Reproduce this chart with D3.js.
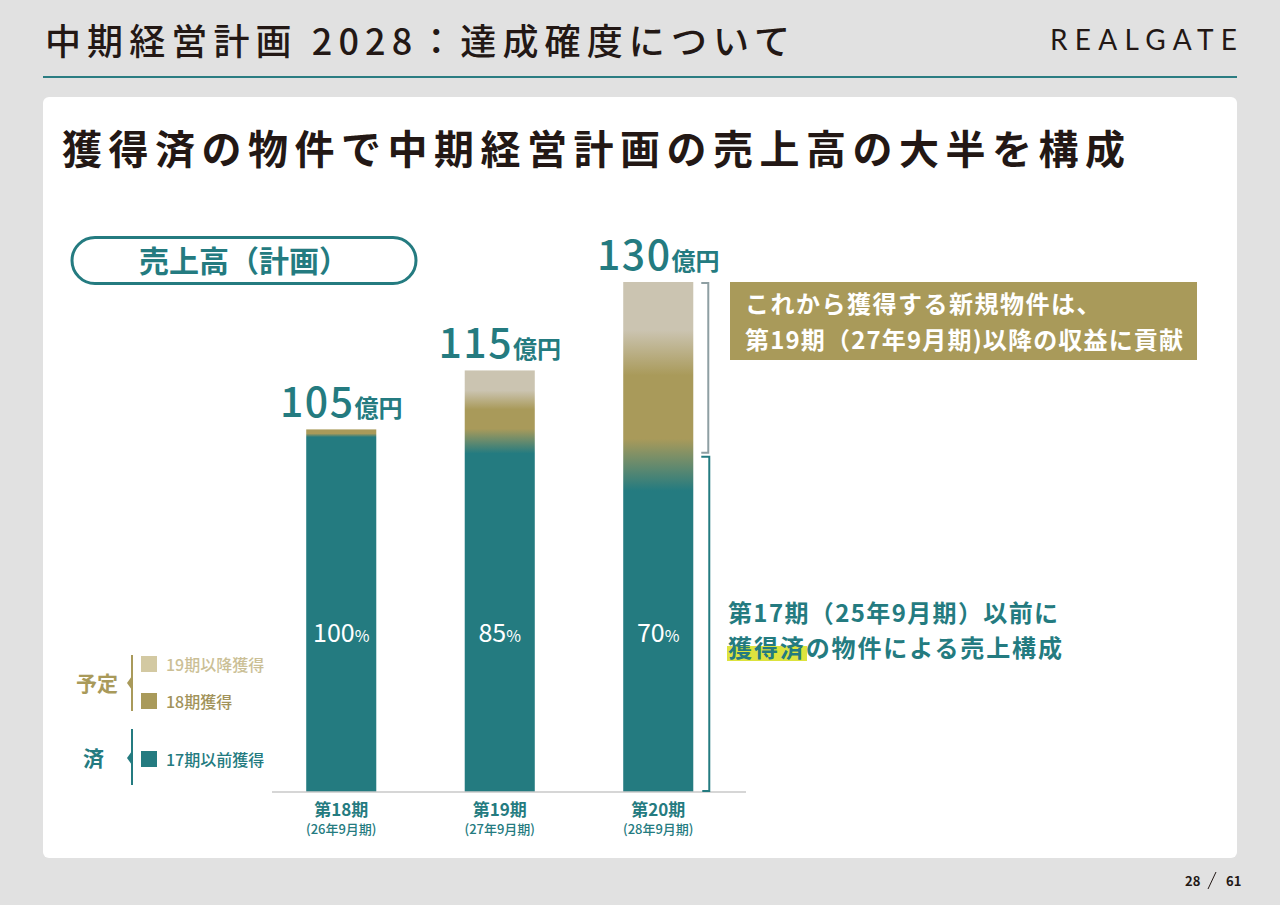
<!DOCTYPE html>
<html>
<head>
<meta charset="utf-8">
<script src="https://cdn.jsdelivr.net/npm/d3@7/dist/d3.min.js"></script>
<style>
  html, body { margin: 0; padding: 0; background: #e1e1e1; }
  svg { display: block; }
  text { font-family: "Noto Sans CJK JP", "Noto Sans", sans-serif; }
</style>
</head>
<body>
<div id="chart"></div>
<script>
// ---- data ----
const categories = ["第18期", "第19期", "第20期"];
const periods = ["(26年9月期)", "(27年9月期)", "(28年9月期)"];
const totals = [105, 115, 130];                 // 億円
const acquiredBy17 = [104, 103, 99];           // 済: 17期以前獲得
const planned18 = [1, 7, 19];                   // 予定: 18期獲得
const planned19 = [0, 5, 12];                   // 予定: 19期以降獲得
const shareLabels = ["100", "85", "70"];        // 済 share %
const seriesNames = ["17期以前獲得", "18期獲得", "19期以降獲得"];
const yDomain = [43.5, 130];

const W = 1280, H = 905;
const TEAL = "#247b80", KHAKI = "#a99a5a", BEIGE = "#cbc4b1";
const DARK = "#231815";

const svg = d3.select("#chart").append("svg").attr("width", W).attr("height", H);
svg.append("rect").attr("width", W).attr("height", H).attr("fill", "#e1e1e1");

// header
svg.append("text").attr("x", 45).attr("y", 55)
  .attr("font-size", 36).attr("font-weight", 500).attr("fill", DARK)
  .attr("textLength", 745).attr("lengthAdjust", "spacing")
  .text("中期経営計画 2028：達成確度について");
svg.append("text").attr("x", 1050).attr("y", 50)
  .style("font-family", "Lato, 'DejaVu Sans', sans-serif")
  .attr("font-size", 28).attr("font-weight", 400).attr("fill", DARK)
  .attr("textLength", 187).attr("lengthAdjust", "spacing")
  .text("REALGATE");
svg.append("line").attr("x1", 43).attr("x2", 1237).attr("y1", 77).attr("y2", 77)
  .attr("stroke", "#2b7d82").attr("stroke-width", 2);

// panel
svg.append("rect").attr("x", 43).attr("y", 97).attr("width", 1194).attr("height", 761)
  .attr("rx", 6).attr("fill", "#ffffff");

svg.append("text").attr("x", 62).attr("y", 164)
  .attr("font-size", 40).attr("font-weight", 700).attr("fill", DARK)
  .attr("textLength", 1063).attr("lengthAdjust", "spacing")
  .text("獲得済の物件で中期経営計画の売上高の大半を構成");

// pill
svg.append("rect").attr("x", 72).attr("y", 237.5).attr("width", 344).attr("height", 46)
  .attr("rx", 23).attr("fill", "none").attr("stroke", TEAL).attr("stroke-width", 3);
svg.append("text").attr("x", 244).attr("y", 272).attr("text-anchor", "middle")
  .attr("font-size", 30).attr("font-weight", 700).attr("fill", TEAL)
  .text("売上高（計画）");

// scales
const x = d3.scaleBand().domain(categories).range([262, 737.5])
  .paddingInner(0.558).paddingOuter(0.279);
const y = d3.scaleLinear().domain(yDomain).range([792, 282]);

const rows = categories.map((c, i) => ({
  cat: c, total: totals[i], share: shareLabels[i], period: periods[i],
  segs: [acquiredBy17[i], planned18[i], planned19[i]]
}));

// gradients
const defs = svg.append("defs");
rows.forEach((r, i) => {
  const top = y(r.total), bottom = y(yDomain[0]);
  const h = bottom - top;
  const b1 = r.segs[0], b2 = r.segs[0] + r.segs[1];
  const yb1 = y(b1), yb2 = y(b2);
  const hTeal = bottom - yb1, hKhaki = yb1 - yb2, hBeige = yb2 - top;
  const off = v => ((v - top) / h * 100).toFixed(3) + "%";
  const g = defs.append("linearGradient").attr("id", "grad" + i)
    .attr("x1", 0).attr("x2", 0).attr("y1", 0).attr("y2", 1);
  const stops = [];
  const blendBK = hBeige > 0 ? Math.min(24, 0.32 * Math.min(hBeige, hKhaki)) : 0;
  const blendKT = Math.min(26, 0.3 * Math.min(hKhaki, hTeal));
  if (hBeige > 0) {
    stops.push([top, BEIGE]);
    stops.push([yb2 - blendBK, BEIGE]);
    stops.push([yb2 + blendBK, KHAKI]);
  } else {
    stops.push([top, KHAKI]);
  }
  stops.push([yb1 - blendKT, KHAKI]);
  stops.push([yb1 + blendKT, TEAL]);
  stops.push([bottom, TEAL]);
  stops.forEach(([pos, col]) => {
    g.append("stop").attr("offset", off(pos)).attr("stop-color", col);
  });
});

// bars
svg.append("g").selectAll("rect").data(rows).join("rect")
  .attr("x", d => x(d.cat)).attr("width", x.bandwidth())
  .attr("y", d => y(d.total)).attr("height", d => y(yDomain[0]) - y(d.total))
  .attr("fill", (d, i) => `url(#grad${i})`);

// baseline
svg.append("line").attr("x1", 272).attr("x2", 746).attr("y1", 792).attr("y2", 792)
  .attr("stroke", "#c9c9c9").attr("stroke-width", 1.5);

// total labels
const tl = svg.append("g").selectAll("text").data(rows).join("text")
  .attr("x", d => x(d.cat) + x.bandwidth() / 2)
  .attr("y", d => y(d.total) - 12)
  .attr("text-anchor", "middle").attr("fill", TEAL);
tl.append("tspan").attr("font-size", 41).attr("font-weight", 500)
  .attr("letter-spacing", 1.5).text(d => d.total);
tl.append("tspan").attr("font-size", 24).attr("font-weight", 700).text("億円");

// share labels
const sl = svg.append("g").selectAll("text").data(rows).join("text")
  .attr("x", d => x(d.cat) + x.bandwidth() / 2)
  .attr("y", 642).attr("text-anchor", "middle").attr("fill", "#ffffff");
sl.append("tspan").attr("font-size", 25).attr("font-weight", 400).text(d => d.share);
sl.append("tspan").attr("font-size", 16).attr("font-weight", 400).text("%");

// axis category labels
const axis = d3.axisBottom(x).tickSize(0).tickPadding(0);
const ag = svg.append("g").attr("transform", "translate(0,792)").call(axis);
ag.select(".domain").remove();
ag.selectAll(".tick text")
  .attr("y", 24).attr("dy", 0)
  .attr("font-size", 17).attr("font-weight", 700).attr("fill", TEAL)
  .style("font-family", "'Noto Sans CJK JP', sans-serif");
ag.selectAll(".tick").append("text")
  .attr("y", 42).attr("text-anchor", "middle")
  .attr("font-size", 13).attr("font-weight", 500).attr("fill", TEAL)
  .style("font-family", "'Noto Sans CJK JP', sans-serif")
  .text((d, i) => periods[i]);

// brackets beside the last bar
const last = rows[rows.length - 1];
const splitY = y(last.segs[0]) - 10;
const bx = x(last.cat) + x.bandwidth() + 15;
svg.append("path")
  .attr("d", `M${bx - 7},${y(last.total) + 1} H${bx} V${splitY - 2} H${bx - 7}`)
  .attr("fill", "none").attr("stroke", "#8e9fa3").attr("stroke-width", 2);
svg.append("path")
  .attr("d", `M${bx - 7},${splitY + 2} H${bx + 1} V${y(yDomain[0]) - 1} H${bx - 6}`)
  .attr("fill", "none").attr("stroke", TEAL).attr("stroke-width", 2);

// callout box
svg.append("rect").attr("x", 730).attr("y", y(last.total)).attr("width", 467).attr("height", 78)
  .attr("fill", KHAKI);
svg.append("text").attr("x", 745).attr("y", 313)
  .attr("font-size", 24).attr("font-weight", 700).attr("fill", "#ffffff")
  .attr("letter-spacing", 1.5)
  .text("これから獲得する新規物件は、");
svg.append("text").attr("x", 745).attr("y", 349)
  .attr("font-size", 24).attr("font-weight", 700).attr("fill", "#ffffff")
  .attr("textLength", 438).attr("lengthAdjust", "spacing")
  .text("第19期（27年9月期)以降の収益に貢献");

// teal annotation
svg.append("rect").attr("x", 727).attr("y", 646).attr("width", 80).attr("height", 15)
  .attr("fill", "#dde33e");
svg.append("text").attr("x", 728).attr("y", 622)
  .attr("font-size", 24).attr("font-weight", 700).attr("fill", TEAL)
  .attr("textLength", 330).attr("lengthAdjust", "spacing")
  .text("第17期（25年9月期）以前に");
svg.append("text").attr("x", 728).attr("y", 657)
  .attr("font-size", 24).attr("font-weight", 700).attr("fill", TEAL)
  .attr("textLength", 334).attr("lengthAdjust", "spacing")
  .text("獲得済の物件による売上構成");

// legend
const legendItems = [
  { name: seriesNames[2], sq: "#d3c9a2", txt: "#cbbf96", cy: 664 },
  { name: seriesNames[1], sq: KHAKI, txt: "#a2935a", cy: 701 },
  { name: seriesNames[0], sq: TEAL, txt: TEAL, cy: 759 }
];
const lg = svg.append("g");
lg.selectAll("rect").data(legendItems).join("rect")
  .attr("x", 141).attr("y", d => d.cy - 8).attr("width", 16).attr("height", 16)
  .attr("fill", d => d.sq);
lg.selectAll("text.item").data(legendItems).join("text").attr("class", "item")
  .attr("x", 166).attr("y", d => d.cy + 7)
  .attr("font-size", 16).attr("font-weight", 500).attr("fill", d => d.txt)
  .text(d => d.name);

function brace(x0, y0, y1, ym, color) {
  lg.append("path")
    .attr("d", `M${x0},${y0} V${y1}`).attr("stroke", color).attr("stroke-width", 2).attr("fill", "none");
  lg.append("path")
    .attr("d", `M${x0},${ym - 7} L${x0 - 5},${ym} L${x0},${ym + 7} Z`).attr("fill", color);
}
brace(132, 655, 711, 683, KHAKI);
brace(132, 729, 785, 758, TEAL);
lg.append("text").attr("x", 76).attr("y", 691).attr("font-size", 21).attr("font-weight", 700)
  .attr("fill", KHAKI).text("予定");
lg.append("text").attr("x", 83).attr("y", 766).attr("font-size", 21).attr("font-weight", 700)
  .attr("fill", TEAL).text("済");

// page number
svg.append("text").attr("x", 1185).attr("y", 886).attr("font-size", 13).attr("font-weight", 700)
  .attr("fill", DARK).text("28");
svg.append("line").attr("x1", 1208).attr("x2", 1216).attr("y1", 889).attr("y2", 872)
  .attr("stroke", DARK).attr("stroke-width", 1);
svg.append("text").attr("x", 1226).attr("y", 886).attr("font-size", 13).attr("font-weight", 700)
  .attr("fill", DARK).text("61");
</script>
</body>
</html>
